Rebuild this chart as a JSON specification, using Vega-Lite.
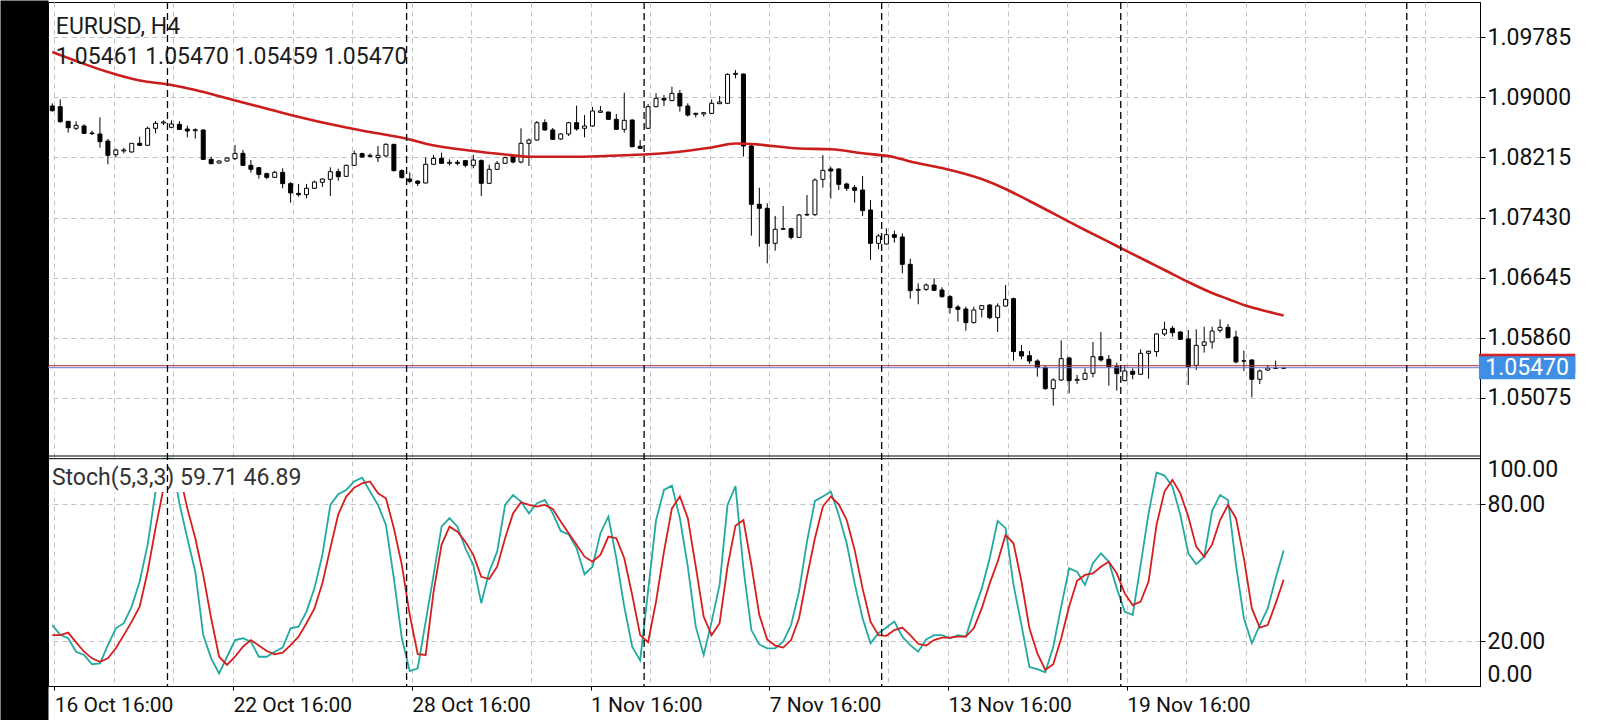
{
"$schema": "https://vega.github.io/schema/vega-lite/v6.json",
"width": 1432, "height": 684,
"autosize": {"type": "none"},
"padding": {"left": 48, "top": 2, "right": 120, "bottom": 34},
"background": "white",
"config": {"font": "Roboto", "view": {"stroke": "black", "strokeWidth": 1}},
"datasets": {
"candles": [
{"i":0,"o":1.08885,"h":1.08920,"l":1.08811,"c":1.08824},
{"i":1,"o":1.08876,"h":1.08972,"l":1.08667,"c":1.08680},
{"i":2,"o":1.08685,"h":1.08685,"l":1.08537,"c":1.08602},
{"i":3,"o":1.08594,"h":1.08685,"l":1.08572,"c":1.08633},
{"i":4,"o":1.08624,"h":1.08646,"l":1.08520,"c":1.08528},
{"i":5,"o":1.08533,"h":1.08563,"l":1.08507,"c":1.08524},
{"i":6,"o":1.08520,"h":1.08737,"l":1.08341,"c":1.08420},
{"i":7,"o":1.08428,"h":1.08454,"l":1.08124,"c":1.08241},
{"i":8,"o":1.08250,"h":1.08328,"l":1.08215,"c":1.08311},
{"i":9,"o":1.08298,"h":1.08341,"l":1.08267,"c":1.08311},
{"i":10,"o":1.08285,"h":1.08398,"l":1.08276,"c":1.08398},
{"i":11,"o":1.08398,"h":1.08485,"l":1.08363,"c":1.08372},
{"i":12,"o":1.08372,"h":1.08615,"l":1.08363,"c":1.08594},
{"i":13,"o":1.08594,"h":1.08689,"l":1.08528,"c":1.08659},
{"i":14,"o":1.08663,"h":1.08698,"l":1.08637,"c":1.08676},
{"i":15,"o":1.08607,"h":1.08698,"l":1.08594,"c":1.08650},
{"i":16,"o":1.08646,"h":1.08689,"l":1.08572,"c":1.08580},
{"i":17,"o":1.08585,"h":1.08628,"l":1.08476,"c":1.08559},
{"i":18,"o":1.08563,"h":1.08594,"l":1.08459,"c":1.08576},
{"i":19,"o":1.08572,"h":1.08580,"l":1.08180,"c":1.08189},
{"i":20,"o":1.08189,"h":1.08224,"l":1.08124,"c":1.08133},
{"i":21,"o":1.08141,"h":1.08176,"l":1.08133,"c":1.08167},
{"i":22,"o":1.08167,"h":1.08215,"l":1.08159,"c":1.08206},
{"i":23,"o":1.08198,"h":1.08376,"l":1.08180,"c":1.08267},
{"i":24,"o":1.08267,"h":1.08311,"l":1.08102,"c":1.08111},
{"i":25,"o":1.08111,"h":1.08180,"l":1.08015,"c":1.08059},
{"i":26,"o":1.08080,"h":1.08089,"l":1.07937,"c":1.07993},
{"i":27,"o":1.08002,"h":1.08015,"l":1.07932,"c":1.07954},
{"i":28,"o":1.07954,"h":1.08041,"l":1.07950,"c":1.08019},
{"i":29,"o":1.08019,"h":1.08072,"l":1.07811,"c":1.07872},
{"i":30,"o":1.07872,"h":1.07893,"l":1.07624,"c":1.07750},
{"i":31,"o":1.07745,"h":1.07867,"l":1.07702,"c":1.07728},
{"i":32,"o":1.07728,"h":1.07867,"l":1.07680,"c":1.07811},
{"i":33,"o":1.07811,"h":1.07911,"l":1.07802,"c":1.07893},
{"i":34,"o":1.07889,"h":1.07941,"l":1.07828,"c":1.07932},
{"i":35,"o":1.07928,"h":1.08085,"l":1.07711,"c":1.08028},
{"i":36,"o":1.08028,"h":1.08067,"l":1.07911,"c":1.07963},
{"i":37,"o":1.07967,"h":1.08119,"l":1.07963,"c":1.08111},
{"i":38,"o":1.08111,"h":1.08302,"l":1.08102,"c":1.08263},
{"i":39,"o":1.08263,"h":1.08276,"l":1.08211,"c":1.08219},
{"i":40,"o":1.08228,"h":1.08267,"l":1.08215,"c":1.08241},
{"i":41,"o":1.08211,"h":1.08363,"l":1.08154,"c":1.08241},
{"i":42,"o":1.08233,"h":1.08398,"l":1.08215,"c":1.08385},
{"i":43,"o":1.08385,"h":1.08385,"l":1.08032,"c":1.08041},
{"i":44,"o":1.08041,"h":1.08059,"l":1.07941,"c":1.07950},
{"i":45,"o":1.07932,"h":1.08019,"l":1.07876,"c":1.07902},
{"i":46,"o":1.07906,"h":1.07915,"l":1.07841,"c":1.07876},
{"i":47,"o":1.07880,"h":1.08215,"l":1.07876,"c":1.08124},
{"i":48,"o":1.08124,"h":1.08246,"l":1.08115,"c":1.08202},
{"i":49,"o":1.08202,"h":1.08276,"l":1.08133,"c":1.08137},
{"i":50,"o":1.08137,"h":1.08189,"l":1.08111,"c":1.08150},
{"i":51,"o":1.08150,"h":1.08180,"l":1.08111,"c":1.08137},
{"i":52,"o":1.08172,"h":1.08180,"l":1.08085,"c":1.08111},
{"i":53,"o":1.08111,"h":1.08246,"l":1.08072,"c":1.08180},
{"i":54,"o":1.08172,"h":1.08189,"l":1.07711,"c":1.07876},
{"i":55,"o":1.07876,"h":1.08119,"l":1.07867,"c":1.08059},
{"i":56,"o":1.08059,"h":1.08167,"l":1.08050,"c":1.08137},
{"i":57,"o":1.08137,"h":1.08224,"l":1.08128,"c":1.08211},
{"i":58,"o":1.08224,"h":1.08254,"l":1.08137,"c":1.08154},
{"i":59,"o":1.08154,"h":1.08594,"l":1.08137,"c":1.08398},
{"i":60,"o":1.08398,"h":1.08459,"l":1.08102,"c":1.08441},
{"i":61,"o":1.08441,"h":1.08689,"l":1.08433,"c":1.08667},
{"i":62,"o":1.08667,"h":1.08711,"l":1.08563,"c":1.08572},
{"i":63,"o":1.08572,"h":1.08598,"l":1.08441,"c":1.08450},
{"i":64,"o":1.08454,"h":1.08528,"l":1.08441,"c":1.08520},
{"i":65,"o":1.08520,"h":1.08680,"l":1.08493,"c":1.08667},
{"i":66,"o":1.08667,"h":1.08889,"l":1.08563,"c":1.08585},
{"i":67,"o":1.08594,"h":1.08767,"l":1.08476,"c":1.08624},
{"i":68,"o":1.08624,"h":1.08872,"l":1.08615,"c":1.08820},
{"i":69,"o":1.08802,"h":1.08885,"l":1.08802,"c":1.08820},
{"i":70,"o":1.08807,"h":1.08807,"l":1.08702,"c":1.08711},
{"i":71,"o":1.08711,"h":1.08781,"l":1.08572,"c":1.08580},
{"i":72,"o":1.08580,"h":1.09059,"l":1.08537,"c":1.08698},
{"i":73,"o":1.08702,"h":1.08711,"l":1.08346,"c":1.08354},
{"i":74,"o":1.08359,"h":1.08441,"l":1.08328,"c":1.08333},
{"i":75,"o":1.08594,"h":1.08911,"l":1.08585,"c":1.08876},
{"i":76,"o":1.08876,"h":1.09050,"l":1.08867,"c":1.08985},
{"i":77,"o":1.08985,"h":1.09028,"l":1.08885,"c":1.08963},
{"i":78,"o":1.08954,"h":1.09137,"l":1.08950,"c":1.09050},
{"i":79,"o":1.09050,"h":1.09094,"l":1.08811,"c":1.08885},
{"i":80,"o":1.08885,"h":1.08920,"l":1.08746,"c":1.08767},
{"i":81,"o":1.08776,"h":1.08798,"l":1.08737,"c":1.08789},
{"i":82,"o":1.08781,"h":1.08807,"l":1.08746,"c":1.08798},
{"i":83,"o":1.08789,"h":1.08972,"l":1.08781,"c":1.08920},
{"i":84,"o":1.08915,"h":1.09015,"l":1.08911,"c":1.08937},
{"i":85,"o":1.08920,"h":1.09311,"l":1.08911,"c":1.09298},
{"i":86,"o":1.09298,"h":1.09354,"l":1.09246,"c":1.09311},
{"i":87,"o":1.09302,"h":1.09311,"l":1.08224,"c":1.08363},
{"i":88,"o":1.08363,"h":1.08385,"l":1.07193,"c":1.07602},
{"i":89,"o":1.07602,"h":1.07819,"l":1.07050,"c":1.07550},
{"i":90,"o":1.07550,"h":1.07615,"l":1.06832,"c":1.07093},
{"i":91,"o":1.07093,"h":1.07450,"l":1.06997,"c":1.07276},
{"i":92,"o":1.07276,"h":1.07580,"l":1.07271,"c":1.07284},
{"i":93,"o":1.07284,"h":1.07297,"l":1.07145,"c":1.07171},
{"i":94,"o":1.07171,"h":1.07476,"l":1.07167,"c":1.07463},
{"i":95,"o":1.07463,"h":1.07724,"l":1.07450,"c":1.07471},
{"i":96,"o":1.07467,"h":1.07941,"l":1.07450,"c":1.07919},
{"i":97,"o":1.07928,"h":1.08246,"l":1.07819,"c":1.08045},
{"i":98,"o":1.08063,"h":1.08093,"l":1.07676,"c":1.08037},
{"i":99,"o":1.08063,"h":1.08072,"l":1.07789,"c":1.07863},
{"i":100,"o":1.07867,"h":1.07885,"l":1.07776,"c":1.07811},
{"i":101,"o":1.07819,"h":1.07854,"l":1.07624,"c":1.07785},
{"i":102,"o":1.07789,"h":1.07972,"l":1.07450,"c":1.07519},
{"i":103,"o":1.07528,"h":1.07658,"l":1.06876,"c":1.07093},
{"i":104,"o":1.07093,"h":1.07215,"l":1.07015,"c":1.07189},
{"i":105,"o":1.07084,"h":1.07289,"l":1.07080,"c":1.07206},
{"i":106,"o":1.07206,"h":1.07258,"l":1.07102,"c":1.07171},
{"i":107,"o":1.07176,"h":1.07224,"l":1.06702,"c":1.06819},
{"i":108,"o":1.06819,"h":1.06893,"l":1.06371,"c":1.06475},
{"i":109,"o":1.06480,"h":1.06571,"l":1.06297,"c":1.06493},
{"i":110,"o":1.06493,"h":1.06571,"l":1.06471,"c":1.06549},
{"i":111,"o":1.06549,"h":1.06636,"l":1.06471,"c":1.06480},
{"i":112,"o":1.06484,"h":1.06519,"l":1.06384,"c":1.06397},
{"i":113,"o":1.06397,"h":1.06419,"l":1.06175,"c":1.06254},
{"i":114,"o":1.06262,"h":1.06288,"l":1.06071,"c":1.06232},
{"i":115,"o":1.06236,"h":1.06267,"l":1.05954,"c":1.06058},
{"i":116,"o":1.06058,"h":1.06267,"l":1.06049,"c":1.06223},
{"i":117,"o":1.06232,"h":1.06288,"l":1.06128,"c":1.06280},
{"i":118,"o":1.06288,"h":1.06301,"l":1.06106,"c":1.06123},
{"i":119,"o":1.06123,"h":1.06310,"l":1.05936,"c":1.06275},
{"i":120,"o":1.06275,"h":1.06549,"l":1.06267,"c":1.06362},
{"i":121,"o":1.06371,"h":1.06384,"l":1.05562,"c":1.05680},
{"i":122,"o":1.05680,"h":1.05767,"l":1.05580,"c":1.05623},
{"i":123,"o":1.05627,"h":1.05688,"l":1.05519,"c":1.05558},
{"i":124,"o":1.05558,"h":1.05580,"l":1.05353,"c":1.05475},
{"i":125,"o":1.05475,"h":1.05493,"l":1.05179,"c":1.05197},
{"i":126,"o":1.05197,"h":1.05332,"l":1.04975,"c":1.05310},
{"i":127,"o":1.05310,"h":1.05827,"l":1.05297,"c":1.05588},
{"i":128,"o":1.05597,"h":1.05614,"l":1.05136,"c":1.05301},
{"i":129,"o":1.05306,"h":1.05375,"l":1.05258,"c":1.05319},
{"i":130,"o":1.05319,"h":1.05462,"l":1.05310,"c":1.05397},
{"i":131,"o":1.05397,"h":1.05806,"l":1.05345,"c":1.05614},
{"i":132,"o":1.05614,"h":1.05936,"l":1.05549,"c":1.05571},
{"i":133,"o":1.05580,"h":1.05636,"l":1.05236,"c":1.05484},
{"i":134,"o":1.05484,"h":1.05536,"l":1.05171,"c":1.05393},
{"i":135,"o":1.05301,"h":1.05506,"l":1.05293,"c":1.05428},
{"i":136,"o":1.05423,"h":1.05462,"l":1.05319,"c":1.05384},
{"i":137,"o":1.05384,"h":1.05710,"l":1.05375,"c":1.05658},
{"i":138,"o":1.05658,"h":1.05693,"l":1.05327,"c":1.05684},
{"i":139,"o":1.05680,"h":1.05919,"l":1.05614,"c":1.05910},
{"i":140,"o":1.05910,"h":1.06071,"l":1.05884,"c":1.05971},
{"i":141,"o":1.05984,"h":1.06014,"l":1.05875,"c":1.05927},
{"i":142,"o":1.05936,"h":1.05945,"l":1.05832,"c":1.05840},
{"i":143,"o":1.05845,"h":1.05962,"l":1.05245,"c":1.05484},
{"i":144,"o":1.05501,"h":1.05971,"l":1.05440,"c":1.05762},
{"i":145,"o":1.05762,"h":1.06006,"l":1.05667,"c":1.05806},
{"i":146,"o":1.05806,"h":1.06006,"l":1.05719,"c":1.05949},
{"i":147,"o":1.05958,"h":1.06101,"l":1.05927,"c":1.05997},
{"i":148,"o":1.05997,"h":1.06041,"l":1.05853,"c":1.05862},
{"i":149,"o":1.05871,"h":1.05954,"l":1.05527,"c":1.05545},
{"i":150,"o":1.05554,"h":1.05693,"l":1.05427,"c":1.05562},
{"i":151,"o":1.05571,"h":1.05580,"l":1.05084,"c":1.05319},
{"i":152,"o":1.05319,"h":1.05449,"l":1.05258,"c":1.05427},
{"i":153,"o":1.05440,"h":1.05506,"l":1.05427,"c":1.05466},
{"i":154,"o":1.05466,"h":1.05562,"l":1.05458,"c":1.05462},
{"i":155,"o":1.05461,"h":1.05470,"l":1.05459,"c":1.05470}
],
"ma": [
{"i":0,"ma":1.09589},{"i":3,"ma":1.09472},{"i":7,"ma":1.09328},{"i":11,"ma":1.09217},{"i":15,"ma":1.09159},
{"i":18,"ma":1.09094},{"i":22,"ma":1.08985},{"i":26,"ma":1.08878},{"i":30,"ma":1.08767},{"i":37,"ma":1.08604},
{"i":40,"ma":1.08546},{"i":45,"ma":1.08448},{"i":47,"ma":1.08392},{"i":53,"ma":1.08298},{"i":57,"ma":1.08252},
{"i":60,"ma":1.08223},{"i":66,"ma":1.08223},{"i":72,"ma":1.08243},{"i":75,"ma":1.08255},{"i":80,"ma":1.08302},
{"i":83,"ma":1.08343},{"i":86,"ma":1.08396},{"i":88,"ma":1.08389},{"i":94,"ma":1.08330},{"i":98,"ma":1.08320},
{"i":102,"ma":1.08268},{"i":106,"ma":1.08217},{"i":108,"ma":1.08161},{"i":112,"ma":1.08076},{"i":117,"ma":1.07932},
{"i":120,"ma":1.07802},{"i":123,"ma":1.07645},{"i":130,"ma":1.07267},{"i":134,"ma":1.07058},{"i":138,"ma":1.06849},
{"i":140,"ma":1.06745},{"i":143,"ma":1.06588},{"i":146,"ma":1.06445},{"i":148,"ma":1.06367},{"i":150,"ma":1.06288},
{"i":152,"ma":1.06230},{"i":155,"ma":1.06151}
],
"stoch": [
{"i":0,"k":27.0,"d":22.6},{"i":1,"k":22.7,"d":22.6},{"i":2,"k":21.2,"d":23.7},{"i":3,"k":15.3,"d":19.4},{"i":4,"k":13.9,"d":15.3},
{"i":5,"k":9.8,"d":12.4},{"i":6,"k":10.2,"d":10.9},{"i":7,"k":18.2,"d":12.4},{"i":8,"k":25.6,"d":16.8},{"i":9,"k":27.8,"d":22.6},
{"i":10,"k":35.1,"d":28.5},{"i":11,"k":46.1,"d":35.1},{"i":12,"k":62.2,"d":50.4},{"i":13,"k":85.6,"d":69.5},{"i":14,"k":100,"d":87.0},
{"i":15,"k":100,"d":99.5},{"i":16,"k":80.4,"d":93.6},{"i":17,"k":65.1,"d":78.2},{"i":18,"k":50.4,"d":65.1},{"i":19,"k":22.6,"d":49.0},
{"i":20,"k":12.4,"d":30.0},{"i":21,"k":5.8,"d":13.1},{"i":22,"k":13.1,"d":9.5},{"i":23,"k":20.4,"d":13.1},{"i":24,"k":21.2,"d":17.5},
{"i":25,"k":19.7,"d":20.4},{"i":26,"k":13.1,"d":18.0},{"i":27,"k":13.1,"d":15.6},{"i":28,"k":15.3,"d":14.2},{"i":29,"k":17.1,"d":14.9},
{"i":30,"k":25.6,"d":18.2},{"i":31,"k":26.3,"d":21.9},{"i":32,"k":32.9,"d":27.8},{"i":33,"k":43.1,"d":34.3},{"i":34,"k":57.8,"d":45.3},
{"i":35,"k":79.7,"d":60.7},{"i":36,"k":84.4,"d":75.6},{"i":37,"k":86.3,"d":83.4},{"i":38,"k":90.0,"d":87.3},{"i":39,"k":91.7,"d":89.2},
{"i":40,"k":85.6,"d":90.0},{"i":41,"k":79.7,"d":84.8},{"i":42,"k":70.9,"d":82.6},{"i":43,"k":47.5,"d":69.5},{"i":44,"k":21.2,"d":53.4},
{"i":45,"k":6.8,"d":31.4},{"i":46,"k":8.0,"d":14.2},{"i":47,"k":28.5,"d":13.9},{"i":48,"k":49.0,"d":41.7},{"i":49,"k":70.2,"d":62.2},
{"i":50,"k":73.9,"d":70.2},{"i":51,"k":70.2,"d":68.0},{"i":52,"k":60.7,"d":63.6},{"i":53,"k":53.4,"d":57.8},{"i":54,"k":36.6,"d":48.2},
{"i":55,"k":50.4,"d":47.2},{"i":56,"k":59.2,"d":52.6},{"i":57,"k":79.7,"d":65.1},{"i":58,"k":84.1,"d":76.0},{"i":59,"k":81.2,"d":80.9},
{"i":60,"k":76.0,"d":79.7},{"i":61,"k":80.4,"d":79.0},{"i":62,"k":81.9,"d":79.7},{"i":63,"k":76.0,"d":78.0},{"i":64,"k":68.3,"d":72.4},
{"i":65,"k":66.8,"d":67.3},{"i":66,"k":60.7,"d":62.2},{"i":67,"k":49.3,"d":57.0},{"i":68,"k":52.6,"d":54.8},{"i":69,"k":67.3,"d":57.8},
{"i":70,"k":74.6,"d":65.8},{"i":71,"k":56.3,"d":65.1},{"i":72,"k":35.1,"d":56.3},{"i":73,"k":17.5,"d":40.2},{"i":74,"k":11.5,"d":22.6},
{"i":75,"k":42.0,"d":19.5},{"i":76,"k":73.0,"d":37.3},{"i":77,"k":86.3,"d":59.2},{"i":78,"k":88.2,"d":78.2},{"i":79,"k":73.9,"d":83.4},
{"i":80,"k":52.6,"d":73.9},{"i":81,"k":26.3,"d":52.6},{"i":82,"k":13.9,"d":30.7},{"i":83,"k":28.5,"d":22.6},{"i":84,"k":44.6,"d":27.8},
{"i":85,"k":79.7,"d":52.6},{"i":86,"k":88.0,"d":70.6},{"i":87,"k":52.0,"d":73.1},{"i":88,"k":24.8,"d":53.4},{"i":89,"k":18.5,"d":31.4},
{"i":90,"k":16.8,"d":20.7},{"i":91,"k":16.8,"d":18.0},{"i":92,"k":19.7,"d":17.1},{"i":93,"k":27.0,"d":20.4},{"i":94,"k":41.7,"d":30.0},
{"i":95,"k":63.6,"d":48.2},{"i":96,"k":81.5,"d":65.1},{"i":97,"k":83.4,"d":79.0},{"i":98,"k":85.6,"d":83.4},{"i":99,"k":75.3,"d":80.0},
{"i":100,"k":62.9,"d":73.1},{"i":101,"k":45.3,"d":60.0},{"i":102,"k":30.0,"d":43.1},{"i":103,"k":19.0,"d":28.5},{"i":104,"k":23.4,"d":22.6},
{"i":105,"k":25.9,"d":22.3},{"i":106,"k":28.5,"d":24.8},{"i":107,"k":21.9,"d":25.9},{"i":108,"k":18.2,"d":22.6},{"i":109,"k":15.3,"d":18.8},
{"i":110,"k":20.7,"d":18.0},{"i":111,"k":22.6,"d":20.4},{"i":112,"k":22.6,"d":21.5},{"i":113,"k":21.2,"d":21.5},{"i":114,"k":22.6,"d":21.9},
{"i":115,"k":21.9,"d":21.9},{"i":116,"k":32.9,"d":25.6},{"i":117,"k":43.1,"d":34.3},{"i":118,"k":56.3,"d":45.3},{"i":119,"k":72.7,"d":54.8},
{"i":120,"k":69.5,"d":66.5},{"i":121,"k":44.6,"d":62.9},{"i":122,"k":27.0,"d":46.1},{"i":123,"k":8.6,"d":25.6},{"i":124,"k":7.7,"d":14.6},
{"i":125,"k":6.3,"d":7.3},{"i":126,"k":17.5,"d":9.8},{"i":127,"k":35.1,"d":21.2},{"i":128,"k":51.9,"d":35.1},{"i":129,"k":50.4,"d":46.4},
{"i":130,"k":44.6,"d":49.0},{"i":131,"k":54.1,"d":49.7},{"i":132,"k":58.5,"d":52.6},{"i":133,"k":54.8,"d":54.8},{"i":134,"k":43.1,"d":49.7},
{"i":135,"k":32.9,"d":40.9},{"i":136,"k":31.4,"d":35.8},{"i":137,"k":53.4,"d":37.3},{"i":138,"k":76.0,"d":46.1},{"i":139,"k":94.0,"d":70.9},
{"i":140,"k":92.6,"d":85.6},{"i":141,"k":87.8,"d":90.7},{"i":142,"k":75.3,"d":84.8},{"i":143,"k":58.5,"d":74.6},{"i":144,"k":53.7,"d":61.4},
{"i":145,"k":57.0,"d":57.0},{"i":146,"k":77.1,"d":62.4},{"i":147,"k":84.1,"d":73.1},{"i":148,"k":81.9,"d":79.7},{"i":149,"k":53.4,"d":73.9},
{"i":150,"k":30.0,"d":56.3},{"i":151,"k":19.0,"d":34.3},{"i":152,"k":27.0,"d":25.9},{"i":153,"k":34.3,"d":27.0},{"i":154,"k":47.5,"d":36.5},
{"i":155,"k":59.71,"d":46.89}
],
"seps": [{"i":14.5},{"i":44.6},{"i":74.5},{"i":104.4},{"i":134.5},{"i":170.5}],
"quote": [{"bid":1.05470,"ask":1.05496}]
},
"layer": [
 {"data": {"values": [{}]}, "mark": {"type": "point", "opacity": 0},
  "encoding": {
   "x": {"datum": 0.09, "type": "quantitative", "scale": {"domain": [0.09, 179.09], "nice": false, "zero": false},
    "axis": {"orient": "bottom", "title": null, "values": [0.25,7.75,15.25,22.75,30.25,37.75,45.25,52.75,60.25,67.75,75.25,82.75,90.25,97.75,105.25,112.75,120.25,127.75,135.25,142.75,150.25,157.75,165.25,172.75],
     "grid": true, "gridColor": "#c2c2c2", "gridDash": [5,4], "gridWidth": 1, "domain": false,
     "ticks": true, "tickSize": 4, "tickColor": "black",
     "tickOpacity": {"condition": {"test": "(datum.value - 0.25) % 22.5 == 0 && datum.value < 140", "value": 1}, "value": 0},
     "labelExpr": "datum.value == 0.25 ? '16 Oct 16:00' : datum.value == 22.75 ? '22 Oct 16:00' : datum.value == 45.25 ? '28 Oct 16:00' : datum.value == 67.75 ? '1 Nov 16:00' : datum.value == 90.25 ? '7 Nov 16:00' : datum.value == 112.75 ? '13 Nov 16:00' : datum.value == 135.25 ? '19 Nov 16:00' : ''",
     "labelAlign": "left", "labelBaseline": "top", "labelPadding": 4, "labelFont": "Roboto", "labelFontSize": 21, "labelColor": "#111",
     "labelOverlap": false, "labelFlush": false, "labelBound": false}},
   "y": {"datum": 0, "type": "quantitative", "scale": {"domain": [0, 1], "range": [684, 0], "nice": false, "zero": false}, "axis": null}}},
 {"data": {"name": "candles"}, "mark": {"type": "rule", "color": "black", "strokeWidth": 1, "clip": true},
  "encoding": {
   "x": {"field": "i", "type": "quantitative"},
   "y": {"field": "l", "type": "quantitative", "scale": {"domain": [1.04318, 1.10242], "range": [454, 0], "nice": false, "zero": false},
    "axis": {"orient": "right", "title": null, "values": [1.05075,1.0586,1.06645,1.0743,1.08215,1.09,1.09785], "format": ".5f",
     "grid": true, "gridColor": "#c2c2c2", "gridDash": [5,4], "gridWidth": 1,
     "domain": true, "domainColor": "black", "tickColor": "black", "tickSize": 5,
     "labelFont": "Roboto", "labelFontSize": 23, "labelColor": "#111", "labelPadding": 2,
     "labelOverlap": false, "labelFlush": false, "labelBound": false}},
   "y2": {"field": "h"}}},
 {"data": {"name": "candles"}, "mark": {"type": "bar", "size": 4, "stroke": "black", "strokeWidth": 1, "clip": true},
  "encoding": {
   "x": {"field": "i", "type": "quantitative"},
   "y": {"field": "o", "type": "quantitative", "axis": null, "scale": {"domain": [1.04318, 1.10242], "range": [454, 0], "nice": false, "zero": false}},
   "y2": {"field": "c"},
   "fill": {"condition": {"test": "datum.c >= datum.o", "value": "white"}, "value": "black"}}},
 {"data": {"name": "ma"}, "mark": {"type": "line", "color": "#cc1d1d", "strokeWidth": 2.6, "interpolate": "monotone", "clip": true},
  "encoding": {
   "x": {"field": "i", "type": "quantitative"},
   "y": {"field": "ma", "type": "quantitative", "axis": null, "scale": {"domain": [1.04318, 1.10242], "range": [454, 0], "nice": false, "zero": false}}}},
 {"data": {"name": "quote"}, "mark": {"type": "rule", "color": "#a82a3c", "strokeWidth": 1},
  "encoding": {"y": {"field": "ask", "type": "quantitative", "axis": null, "scale": {"domain": [1.04318, 1.10242], "range": [454, 0], "nice": false, "zero": false}}}},
 {"data": {"name": "quote"}, "mark": {"type": "rule", "color": "#6a78d0", "strokeWidth": 1},
  "encoding": {"y": {"field": "bid", "type": "quantitative", "axis": null, "scale": {"domain": [1.04318, 1.10242], "range": [454, 0], "nice": false, "zero": false}}}},
 {"data": {"name": "quote"}, "mark": {"type": "rect", "color": "#d3222a"},
  "encoding": {"x": {"datum": 179.59, "type": "quantitative"}, "x2": {"datum": 191.71},
   "y": {"datum": 1.05400, "type": "quantitative", "axis": null, "scale": {"domain": [1.04318, 1.10242], "range": [454, 0], "nice": false, "zero": false}}, "y2": {"datum": 1.05653}}},
 {"data": {"name": "quote"}, "mark": {"type": "rect", "color": "#3f8fe6"},
  "encoding": {"x": {"datum": 179.59, "type": "quantitative"}, "x2": {"datum": 191.71},
   "y": {"datum": 1.05320, "type": "quantitative", "axis": null, "scale": {"domain": [1.04318, 1.10242], "range": [454, 0], "nice": false, "zero": false}}, "y2": {"datum": 1.05620}}},
 {"data": {"name": "quote"}, "mark": {"type": "text", "color": "white", "font": "Roboto", "fontSize": 23, "align": "center", "baseline": "middle"},
  "encoding": {"x": {"datum": 185.65, "type": "quantitative"},
   "y": {"field": "bid", "type": "quantitative", "axis": null, "scale": {"domain": [1.04318, 1.10242], "range": [454, 0], "nice": false, "zero": false}},
   "text": {"field": "bid", "type": "quantitative", "format": ".5f"}}},
 {"data": {"values": [{}]}, "mark": {"type": "rule", "color": "black", "strokeWidth": 1},
  "encoding": {"y": {"datum": 1.04318, "type": "quantitative", "axis": null, "scale": {"domain": [1.04318, 1.10242], "range": [454, 0], "nice": false, "zero": false}}}},
 {"data": {"values": [{}]}, "mark": {"type": "text", "text": "EURUSD, H4", "font": "Roboto", "fontSize": 23, "color": "#1c1c1c", "align": "left", "baseline": "middle"},
  "encoding": {"x": {"datum": 0.45, "type": "quantitative"},
   "y": {"datum": 1.09919, "type": "quantitative", "axis": null, "scale": {"domain": [1.04318, 1.10242], "range": [454, 0], "nice": false, "zero": false}}}},
 {"data": {"values": [{}]}, "mark": {"type": "text", "text": "1.05461 1.05470 1.05459 1.05470", "font": "Roboto", "fontSize": 23, "color": "#1c1c1c", "align": "left", "baseline": "middle"},
  "encoding": {"x": {"datum": 0.45, "type": "quantitative"},
   "y": {"datum": 1.09528, "type": "quantitative", "axis": null, "scale": {"domain": [1.04318, 1.10242], "range": [454, 0], "nice": false, "zero": false}}}},
 {"data": {"name": "stoch"}, "mark": {"type": "line", "color": "#22a9a1", "strokeWidth": 1.8, "clip": true},
  "encoding": {
   "x": {"field": "i", "type": "quantitative"},
   "y": {"field": "k", "type": "quantitative", "scale": {"domain": [0, 100], "range": [684.6, 456.7], "nice": false, "zero": false},
    "axis": {"orient": "right", "title": null, "values": [0, 20, 80, 100], "format": ".2f",
     "grid": true, "gridColor": "#c2c2c2", "gridDash": [5,4], "gridWidth": 1,
     "gridOpacity": {"condition": {"test": "datum.value == 20 || datum.value == 80", "value": 1}, "value": 0},
     "tickOpacity": {"condition": {"test": "datum.value == 20 || datum.value == 80", "value": 1}, "value": 0},
     "domain": true, "domainColor": "black", "tickColor": "black", "tickSize": 5,
     "labelBaseline": {"condition": {"test": "datum.value == 100", "value": "top"}, "value": "middle"},
     "labelOffset": {"condition": {"test": "datum.value == 0", "value": -12}, "value": 0},
     "labelFont": "Roboto", "labelFontSize": 23, "labelColor": "#111", "labelPadding": 2,
     "labelOverlap": false, "labelFlush": false, "labelBound": false}}}},
 {"data": {"name": "stoch"}, "mark": {"type": "line", "color": "#d61e1e", "strokeWidth": 1.8, "clip": true},
  "encoding": {
   "x": {"field": "i", "type": "quantitative"},
   "y": {"field": "d", "type": "quantitative", "axis": null, "scale": {"domain": [0, 100], "range": [684.6, 456.7], "nice": false, "zero": false}}}},
 {"data": {"values": [{}]}, "mark": {"type": "rect", "color": "white"},
  "encoding": {"x": {"datum": 0.09, "type": "quantitative"}, "x2": {"datum": 33.1},
   "y": {"datum": 100, "type": "quantitative", "axis": null, "scale": {"domain": [0, 100], "range": [684.6, 456.7], "nice": false, "zero": false}}, "y2": {"datum": 85.4}}},
 {"data": {"values": [{}]}, "mark": {"type": "text", "text": "Stoch(5,3,3) 59.71 46.89", "font": "Roboto", "fontSize": 23, "color": "#333333", "align": "left", "baseline": "middle"},
  "encoding": {"x": {"datum": -0.05, "type": "quantitative"},
   "y": {"datum": 91.7, "type": "quantitative", "axis": null, "scale": {"domain": [0, 100], "range": [684.6, 456.7], "nice": false, "zero": false}}}},
 {"data": {"values": [{}]}, "mark": {"type": "rule", "color": "black", "strokeWidth": 1},
  "encoding": {"y": {"datum": 100, "type": "quantitative", "axis": null, "scale": {"domain": [0, 100], "range": [684.6, 456.7], "nice": false, "zero": false}}}},
 {"data": {"name": "seps"}, "mark": {"type": "rule", "color": "black", "strokeWidth": 1.3, "strokeDash": [7, 4]},
  "encoding": {"x": {"field": "i", "type": "quantitative"}}},
 {"data": {"values": [{}]}, "mark": {"type": "point", "opacity": 0},
  "encoding": {"y": {"datum": 0, "type": "quantitative", "scale": {"domain": [0, 1], "range": [718, -2]},
   "axis": {"orient": "left", "title": null, "labels": false, "ticks": false, "grid": false, "domain": true, "domainColor": "black", "domainWidth": 48, "domainCap": "butt", "offset": 24}}}}
],
"resolve": {"scale": {"y": "independent"}}
}
